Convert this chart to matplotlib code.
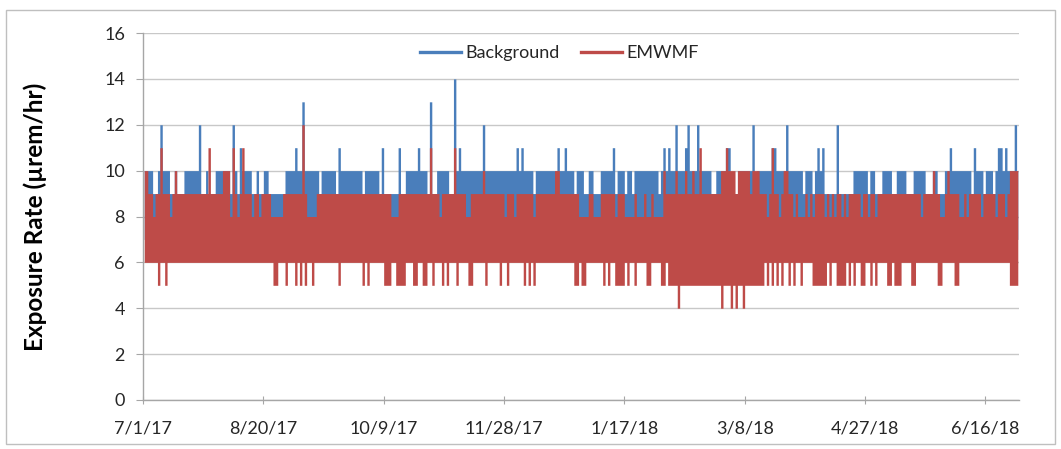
import numpy as np
import matplotlib
matplotlib.use("Agg")
import matplotlib.pyplot as plt
import matplotlib.dates as mdates
from matplotlib.lines import Line2D
from matplotlib.patches import Rectangle
import datetime as dt

# ---------------- data (daily max / min of hourly readings, µrem/hr) ----------------
start_date = "2017-07-01"
x_end_date = "2018-06-30"
tick_start = "2017-07-01"
tick_step_days = 50
y_ticks = [0, 2, 4, 6, 8, 10, 12, 14, 16]
series_names = ["Background", "EMWMF"]
ylabel = "Exposure Rate (µrem/hr)"

bg_max = [
    10, 10, 10, 10, 9, 9, 10, 12, 10, 10,
    10, 9, 9, 10, 9, 9, 9, 10, 10, 10,
    10, 10, 10, 12, 9, 9, 10, 9, 9, 9,
    10, 10, 10, 10, 10, 10, 9, 12, 10, 9,
    11, 10, 10, 10, 10, 9, 9, 10, 9, 9,
    10, 10, 9, 9, 9, 9, 9, 9, 9, 10,
    10, 10, 10, 11, 10, 10, 13, 10, 10, 10,
    10, 10, 10, 9, 10, 10, 10, 10, 10, 10,
    9, 11, 10, 10, 10, 10, 10, 10, 10, 10,
    10, 9, 10, 10, 10, 10, 10, 10, 9, 11,
    9, 9, 9, 9, 9, 9, 11, 9, 9, 10,
    10, 10, 10, 10, 11, 10, 10, 10, 9, 13,
    9, 9, 10, 10, 10, 10, 10, 9, 9, 14,
    10, 11, 10, 10, 10, 10, 10, 10, 10, 10,
    10, 12, 10, 10, 10, 10, 10, 10, 10, 10,
    10, 10, 10, 10, 10, 11, 10, 11, 10, 10,
    10, 10, 9, 10, 10, 10, 10, 10, 10, 10,
    10, 10, 11, 10, 10, 11, 10, 10, 10, 9,
    10, 10, 10, 9, 9, 10, 10, 9, 9, 9,
    10, 10, 10, 10, 10, 11, 9, 10, 10, 10,
    9, 10, 10, 9, 10, 10, 10, 10, 10, 10,
    10, 10, 10, 10, 9, 10, 11, 10, 11, 10,
    10, 12, 10, 10, 10, 11, 12, 10, 10, 10,
    12, 10, 10, 10, 10, 10, 9, 9, 10, 10,
    10, 10, 11, 11, 9, 9, 9, 10, 10, 10,
    10, 10, 10, 12, 9, 10, 10, 10, 10, 10,
    10, 11, 11, 10, 10, 10, 10, 12, 10, 10,
    10, 10, 10, 10, 9, 10, 10, 10, 9, 10,
    11, 10, 11, 9, 9, 9, 9, 9, 12, 9,
    9, 9, 9, 9, 9, 10, 10, 10, 10, 10,
    10, 9, 10, 10, 9, 9, 9, 10, 10, 10,
    10, 9, 9, 10, 10, 10, 10, 9, 9, 9,
    10, 10, 10, 10, 10, 9, 9, 9, 10, 10,
    9, 9, 9, 10, 10, 11, 10, 10, 10, 10,
    10, 10, 10, 10, 9, 11, 10, 10, 10, 9,
    10, 10, 10, 9, 10, 11, 11, 10, 11, 10,
    10, 10, 12, 10,
]
bg_floor = 7  # lower edge of background readings (hidden beneath EMWMF band)

emwmf_max = [
    10, 10, 9, 9, 8, 9, 9, 11, 9, 9,
    9, 8, 9, 10, 9, 9, 9, 9, 9, 9,
    9, 9, 9, 9, 9, 9, 9, 11, 9, 9,
    9, 9, 9, 10, 10, 10, 8, 11, 9, 8,
    9, 11, 9, 9, 9, 8, 9, 9, 8, 9,
    9, 9, 9, 8, 8, 8, 8, 8, 9, 9,
    9, 9, 9, 9, 9, 9, 12, 9, 8, 8,
    8, 8, 9, 9, 9, 9, 9, 9, 9, 9,
    9, 9, 9, 9, 9, 9, 9, 9, 9, 9,
    9, 9, 9, 9, 9, 9, 9, 9, 9, 9,
    9, 9, 9, 8, 8, 8, 9, 9, 9, 9,
    9, 9, 9, 9, 9, 9, 9, 9, 9, 11,
    9, 9, 9, 8, 9, 9, 9, 9, 9, 11,
    9, 9, 9, 9, 8, 8, 9, 9, 9, 9,
    9, 10, 9, 9, 9, 9, 9, 9, 9, 9,
    8, 9, 9, 9, 8, 9, 9, 9, 9, 9,
    9, 9, 8, 9, 9, 9, 9, 9, 9, 9,
    9, 10, 10, 9, 9, 9, 9, 9, 9, 9,
    9, 8, 8, 8, 8, 9, 9, 8, 8, 8,
    9, 9, 9, 9, 9, 9, 8, 9, 9, 9,
    8, 8, 8, 8, 9, 8, 8, 8, 9, 8,
    8, 9, 8, 8, 8, 8, 10, 9, 9, 9,
    9, 10, 9, 9, 9, 10, 9, 9, 10, 9,
    9, 11, 9, 9, 9, 9, 9, 9, 9, 9,
    10, 10, 11, 10, 10, 10, 9, 10, 10, 10,
    10, 10, 9, 10, 10, 10, 9, 9, 9, 8,
    9, 11, 9, 9, 8, 9, 10, 10, 9, 9,
    8, 9, 8, 8, 8, 9, 8, 9, 8, 9,
    9, 9, 9, 8, 9, 8, 9, 8, 9, 9,
    8, 9, 8, 9, 9, 9, 9, 9, 8, 9,
    9, 8, 9, 9, 8, 9, 9, 9, 9, 9,
    9, 9, 9, 9, 9, 9, 9, 9, 9, 9,
    9, 9, 9, 8, 9, 9, 9, 9, 10, 9,
    9, 8, 8, 9, 10, 9, 9, 9, 9, 8,
    8, 9, 8, 9, 9, 9, 9, 9, 8, 9,
    9, 9, 9, 9, 8, 9, 9, 9, 8, 9,
    10, 10, 10, 10,
]

emwmf_min = [
    6, 6, 6, 6, 6, 6, 5, 6, 6, 5,
    6, 6, 6, 6, 6, 6, 6, 6, 6, 6,
    6, 6, 6, 6, 6, 6, 6, 6, 6, 6,
    6, 6, 6, 6, 6, 6, 6, 6, 6, 6,
    6, 6, 6, 6, 6, 6, 6, 6, 6, 6,
    6, 6, 6, 6, 5, 5, 6, 6, 6, 5,
    6, 6, 6, 5, 6, 5, 6, 5, 6, 6,
    5, 6, 6, 6, 6, 6, 6, 6, 6, 6,
    6, 5, 6, 6, 6, 6, 6, 6, 6, 6,
    6, 5, 6, 5, 6, 6, 6, 6, 6, 6,
    5, 5, 5, 6, 6, 5, 5, 5, 5, 6,
    6, 6, 5, 5, 6, 6, 5, 5, 6, 6,
    5, 6, 6, 6, 5, 6, 5, 6, 6, 6,
    5, 6, 6, 6, 6, 5, 5, 6, 6, 6,
    6, 6, 5, 6, 6, 6, 6, 6, 5, 6,
    6, 5, 6, 6, 6, 6, 6, 6, 5, 6,
    5, 6, 5, 6, 6, 6, 6, 6, 6, 6,
    6, 6, 6, 6, 6, 6, 6, 6, 6, 5,
    5, 6, 5, 5, 6, 6, 6, 6, 6, 6,
    6, 5, 6, 5, 6, 6, 5, 5, 5, 5,
    6, 5, 6, 6, 5, 6, 6, 6, 6, 5,
    5, 6, 6, 6, 6, 5, 5, 6, 5, 5,
    5, 5, 4, 5, 5, 5, 5, 5, 5, 5,
    5, 5, 5, 5, 5, 5, 5, 5, 5, 5,
    4, 5, 5, 5, 4, 5, 4, 5, 5, 4,
    5, 5, 5, 5, 5, 5, 5, 5, 6, 5,
    6, 5, 6, 5, 6, 5, 6, 6, 5, 6,
    5, 6, 6, 5, 6, 6, 6, 6, 5, 5,
    5, 5, 5, 5, 6, 5, 6, 6, 5, 5,
    5, 5, 6, 5, 6, 5, 6, 6, 5, 5,
    6, 6, 5, 6, 5, 6, 6, 6, 6, 5,
    5, 6, 5, 5, 5, 6, 6, 6, 6, 5,
    5, 6, 6, 6, 6, 6, 6, 6, 6, 6,
    5, 5, 6, 6, 6, 6, 6, 5, 5, 6,
    6, 6, 6, 6, 6, 6, 6, 6, 6, 6,
    6, 6, 6, 6, 6, 6, 6, 6, 6, 6,
    5, 5, 5, 5,
]

# ---------------- styling ----------------
BLUE = "#4A7EBB"
RED = "#BE4B48"
GRID = "#C8C8C8"
AXIS = "#A6A6A6"
TXT = "#262626"
plt.rcParams["font.family"] = ["Lato", "DejaVu Sans"]

W, H = 1061, 449
fig = plt.figure(figsize=(W / 100, H / 100), dpi=100)
fig.patch.set_facecolor("white")

# outer chart border
fig.add_artist(Rectangle((6 / W, 5 / H), (1055 - 6) / W, (444 - 10) / H,
                         transform=fig.transFigure, fill=False,
                         edgecolor="#BFBFBF", linewidth=1.0))

left, right, top, bottom = 143, 1019, 33, 400
ax = fig.add_axes([left / W, (H - bottom) / H, (right - left) / W, (bottom - top) / H])

n = len(bg_max)
x0 = mdates.date2num(np.datetime64(start_date))
x = x0 + np.arange(n) + 0.5

ax.fill_between(x, bg_floor, bg_max, step="mid", color=BLUE, linewidth=0, zorder=2)
ax.fill_between(x, emwmf_min, emwmf_max, step="mid", color=RED, linewidth=0, zorder=3)

ax.set_xlim(x0, mdates.date2num(np.datetime64(x_end_date)))
ax.set_ylim(0, 16)
ax.set_yticks(y_ticks)

t0 = dt.date.fromisoformat(tick_start)
xt = []
d = t0
end = dt.date.fromisoformat(x_end_date)
while d <= end:
    xt.append(d)
    d = d + dt.timedelta(days=tick_step_days)
ax.set_xticks([mdates.date2num(np.datetime64(t)) for t in xt])
ax.set_xticklabels([f"{t.month}/{t.day}/{t.year % 100}" for t in xt])

for s in ["top", "right"]:
    ax.spines[s].set_visible(False)
for s in ["left", "bottom"]:
    ax.spines[s].set_color(AXIS)
    ax.spines[s].set_linewidth(1.0)
    ax.spines[s].set_zorder(4)

ax.grid(axis="y", color=GRID, linewidth=1.0, zorder=0)
ax.set_axisbelow(True)
ax.tick_params(axis="y", direction="out", length=5, color=AXIS, pad=8,
               labelsize=13, labelcolor=TXT)
ax.tick_params(axis="x", direction="inout", length=6, color=AXIS, pad=12,
               labelsize=13, labelcolor=TXT)

ax.set_ylabel(ylabel, fontsize=17.5, fontweight="bold", color="black")
ax.yaxis.set_label_coords(-0.11, 0.5)

handles = [Line2D([], [], color=BLUE, lw=2.4), Line2D([], [], color=RED, lw=2.4)]
ax.legend(handles, series_names, loc="center", bbox_to_anchor=(0.475, 0.945),
          ncol=2, frameon=False, fontsize=13, handlelength=2.3,
          handletextpad=0.2, columnspacing=1.2, labelcolor=TXT)

fig.savefig("out.png", dpi=100, facecolor="white")
